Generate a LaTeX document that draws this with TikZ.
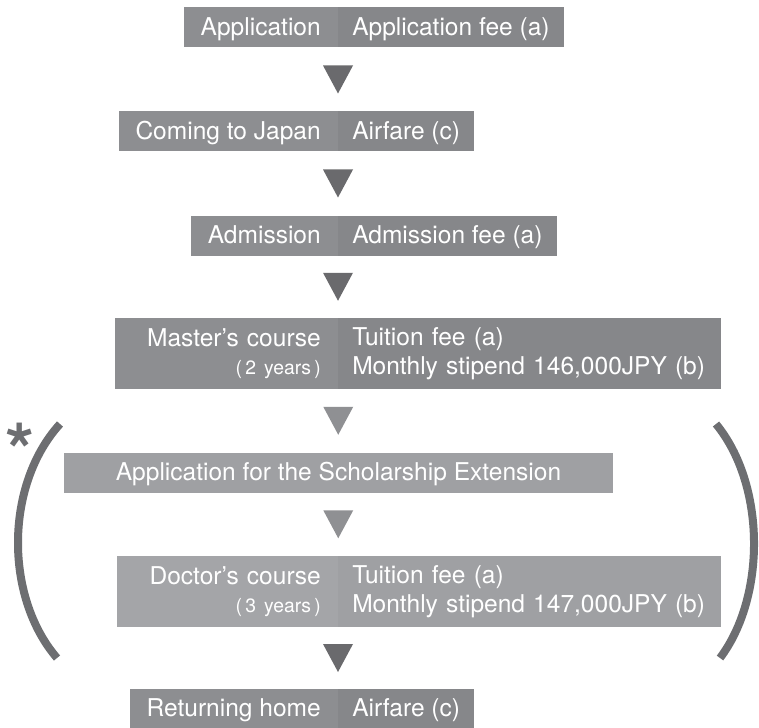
\documentclass[tikz,border=0pt]{standalone}
\usepackage{fontspec}
\setmainfont{TeX Gyre Heros}
\usetikzlibrary{positioning,calc}
\definecolor{feedark}{HTML}{86878A}
\definecolor{namedark}{HTML}{8D8E91}
\definecolor{feelight}{HTML}{9FA0A3}
\definecolor{namelight}{HTML}{A4A5A8}
\definecolor{tridark}{HTML}{6A6A6D}
\definecolor{trilight}{HTML}{8F9093}
\definecolor{bracketgray}{HTML}{6D6E71}
\tikzset{
  cell/.style={text=white, inner ysep=0pt, minimum height=30pt,
    text height=13pt, text depth=1.5pt,
    font=\fontsize{18.4}{21.5}\selectfont},
  stepname/.style={cell, fill=namedark, inner xsep=12.75pt, anchor=east, align=right},
  stepfee/.style={cell, fill=feedark, inner xsep=10.5pt, align=left},
  twoline/.style={minimum height=53.25pt, text height=, text depth=},
  extbox/.style={cell, fill=feelight, minimum width=411.75pt},
  bracket/.style={draw=bracketgray, line width=6pt},
}
\begin{document}
\begin{tikzpicture}[x=0.75pt,y=-0.75pt]
  \useasboundingbox (0,0) rectangle (759,727);
  \clip (0,0) rectangle (759,727);
  \fill[white] (0,0) rectangle (759,727);

  % steps and what is paid for them
  \node[stepname] (app) at (338,27.5) {Application};
  \node[stepfee, right=0pt of app] (appfee) {Application fee (a)};

  \node[stepname] (japan) at (338,131.5) {Coming to Japan};
  \node[stepfee, right=0pt of japan] (japanfee) {Airfare (c)};

  \node[stepname] (adm) at (338,235.5) {Admission};
  \node[stepfee, right=0pt of adm] (admfee) {Admission fee (a)};

  \node[stepname, twoline, text width=141.75pt] (master) at (338,353.5)
    {Master’s course\\{\fontsize{14.5}{21.5}\selectfont(\,2 years\,)}};
  \node[stepfee, twoline, text width=266.25pt, right=0pt of master] (masterfee)
    {Tuition fee (a)\\Monthly stipend 146,000JPY (b)};

  \node[extbox] (ext) at (338.5,472.5) {Application for the Scholarship Extension};

  \node[stepname, twoline, fill=namelight, text width=140.25pt] (doctor) at (338,591.5)
    {Doctor’s course\\{\fontsize{14.5}{21.5}\selectfont(\,3 years\,)}};
  \node[stepfee, twoline, fill=feelight, text width=266.25pt, right=0pt of doctor] (doctorfee)
    {Tuition fee (a)\\Monthly stipend 147,000JPY (b)};

  \node[stepname] (home) at (338,709) {Returning home};
  \node[stepfee, right=0pt of home] (homefee) {Airfare (c)};

  % down triangles between the steps
  \coordinate (t1) at ($(app.south east)!0.5!(japan.north east)$);
  \coordinate (t2) at ($(japan.south east)!0.5!(adm.north east)$);
  \coordinate (t3) at ($(adm.south east)!0.5!(master.north east)$);
  \coordinate (t4) at ($(master.south east)!0.5!(ext.north)$);
  \coordinate (t5) at ($(ext.south)!0.5!(doctor.north east)$);
  \coordinate (t6) at ($(doctor.south east)!0.5!(home.north east)$);
  \fill[tridark] ($(t1)+(-15,-14)$) -- ($(t1)+(15,-14)$) -- ($(t1)+(0,14)$) -- cycle;
  \fill[tridark] ($(t2)+(-15,-14)$) -- ($(t2)+(15,-14)$) -- ($(t2)+(0,14)$) -- cycle;
  \fill[tridark] ($(t3)+(-15,-14)$) -- ($(t3)+(15,-14)$) -- ($(t3)+(0,14)$) -- cycle;
  \fill[trilight] ($(t4)+(-15,-14)$) -- ($(t4)+(15,-14)$) -- ($(t4)+(0,14)$) -- cycle;
  \fill[trilight] ($(t5)+(-15,-14)$) -- ($(t5)+(15,-14)$) -- ($(t5)+(0,14)$) -- cycle;
  \fill[tridark] ($(t6)+(-15,-14)$) -- ($(t6)+(15,-14)$) -- ($(t6)+(0,14)$) -- cycle;

  % brackets round the extension
  \draw[bracket] (60,424) .. controls (4.5,485) and (4.5,597) .. (57,658);
  \draw[bracket] (716,424) .. controls (766,485) and (766,597) .. (720,658);
  \node[text=bracketgray, inner sep=0pt, font=\bfseries\fontsize{56}{56}\selectfont] (ast) at (20,450) {*};
\end{tikzpicture}
\end{document}
